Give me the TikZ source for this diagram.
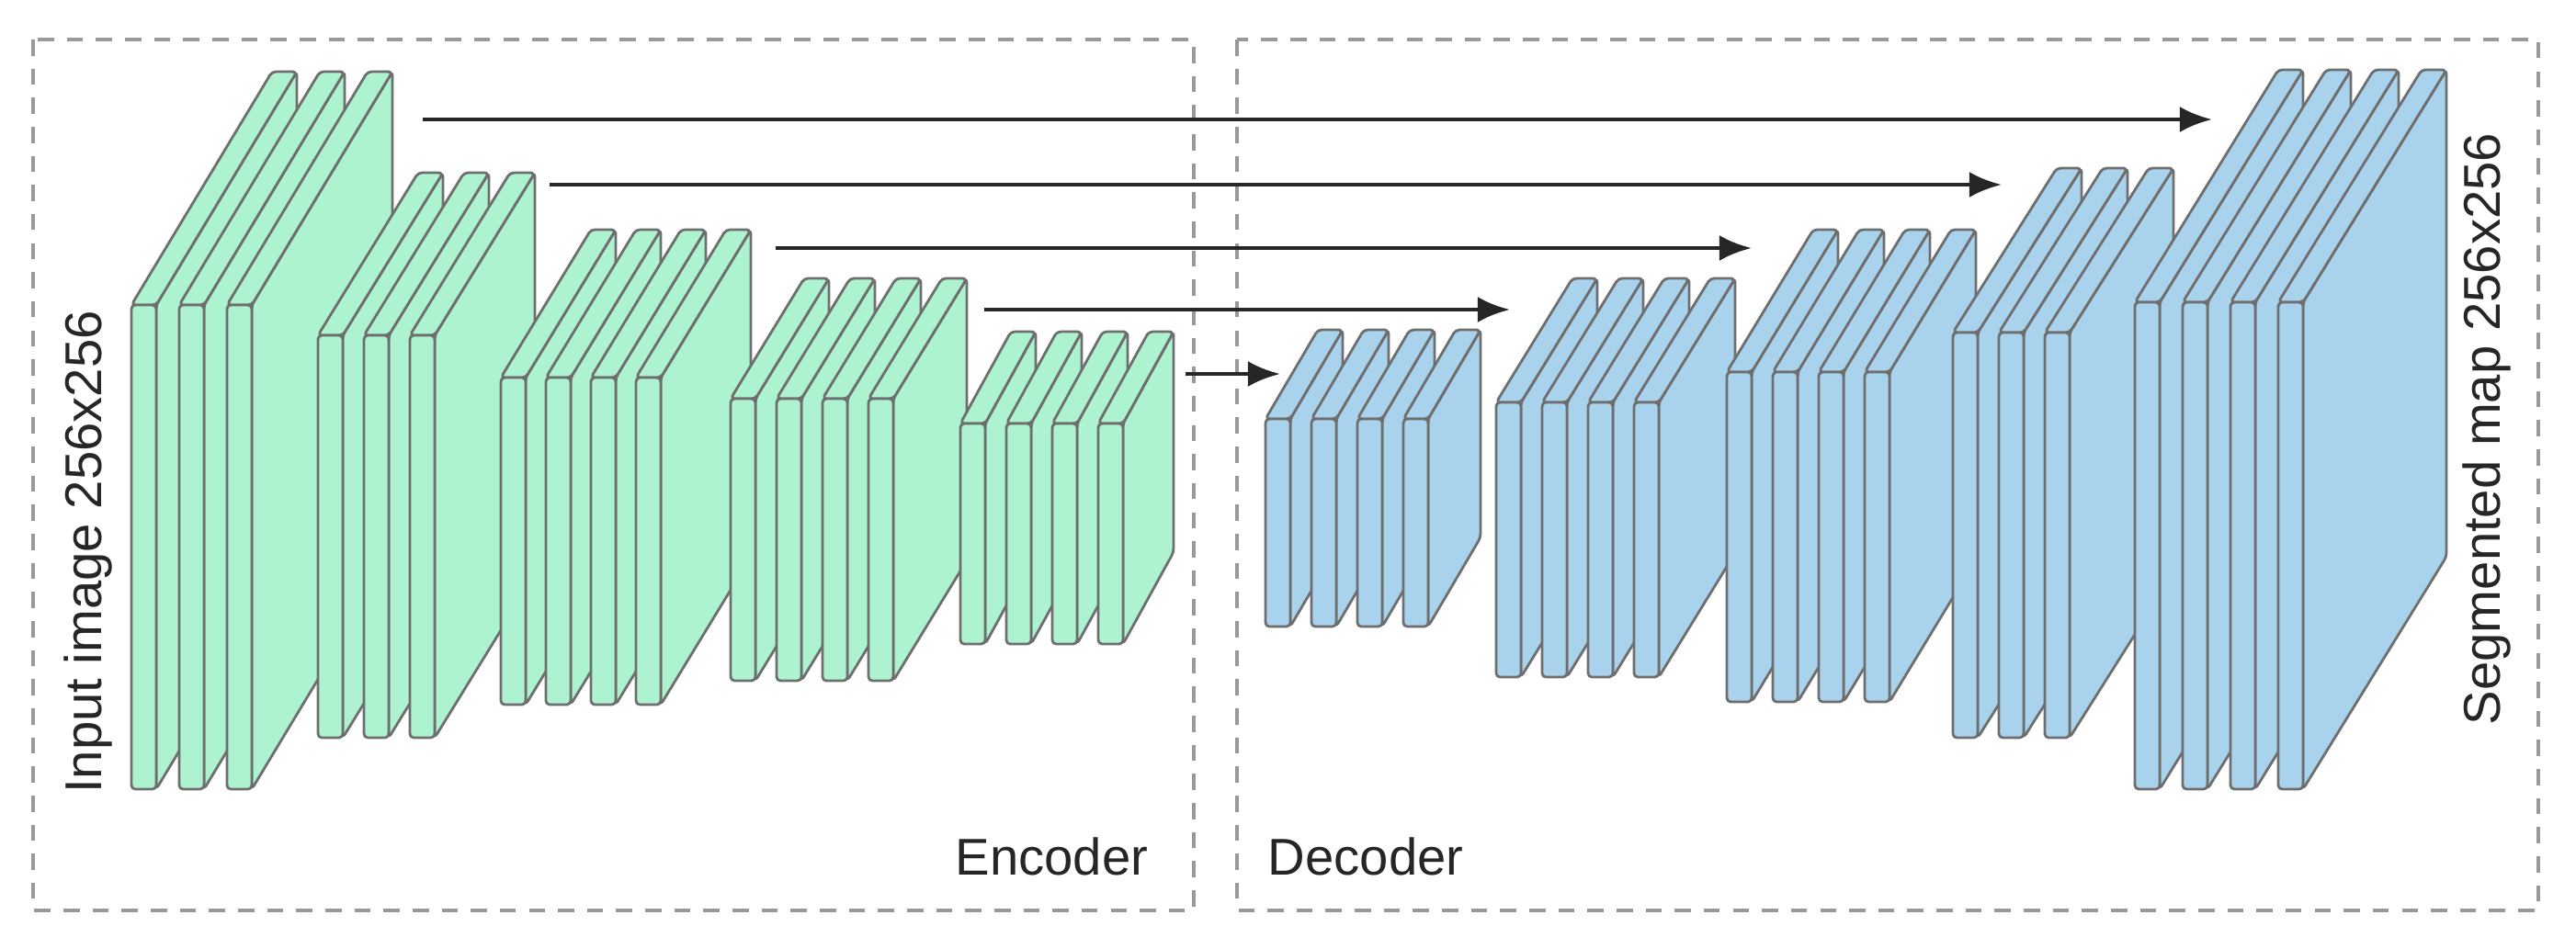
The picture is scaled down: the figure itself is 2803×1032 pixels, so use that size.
\documentclass[tikz,border=0pt]{standalone}
\usepackage{fontspec}
\setmainfont{Liberation Sans}
\usetikzlibrary{arrows.meta}
\definecolor{encfill}{HTML}{ADF3D0}
\definecolor{decfill}{HTML}{A9D3EC}
\definecolor{edgegray}{HTML}{6E6E6E}
\tikzset{
    slab/.style = {draw=edgegray, line width=0.8pt, rounded corners=1.2pt, line join=round},
    frame/.style = {draw=gray!80, dashed, line width=0.9pt, dash pattern=on 5pt off 4pt},
    skip/.style = {draw=black!85, line width=1.4pt, -{Latex[length=10pt,width=8pt]}},
    label/.style = {font=\fontsize{16}{19}\selectfont, text=black!85, inner sep=0pt}
}
% block of slabs: x, top, bottom, count, pitch, dx, dy, colour
\newcommand\convblock[8]{%
    \foreach \k in {1,...,#4}{%
        \pgfmathsetmacro\xa{#1+(\k-1)*#5}
        \pgfmathsetmacro\xb{\xa+27}
        \draw[slab, fill=#8] (\xb,#2) -- (\xb+#6,#2-#7) -- (\xb+#6,#3-#7) -- (\xb,#3) -- cycle;
        \draw[slab, fill=#8] (\xa,#2) -- (\xa+#6,#2-#7) -- (\xb+#6,#2-#7) -- (\xb,#2) -- cycle;
        \draw[slab, fill=#8] (\xa,#2) rectangle (\xb,#3);
    }%
}
\begin{document}
\begin{tikzpicture}[x=0.01cm, y=-0.01cm]
    \useasboundingbox (0,0) rectangle (2803,1032);
    % frames
    \draw[frame] (36,43) rectangle (1299,991);
    \draw[frame] (1346,43) rectangle (2762,991);
    % encoder
    \convblock{143}{332}{859}{3}{52}{153}{254}{encfill}
    \convblock{346}{365}{803}{3}{50}{109}{177}{encfill}
    \convblock{545}{411}{767}{4}{49}{98}{161}{encfill}
    \convblock{795}{434}{741}{4}{50}{80}{131}{encfill}
    \convblock{1045}{461}{701}{4}{50}{55}{100}{encfill}
    % decoder
    \convblock{1377}{456}{682}{4}{50}{57}{97}{decfill}
    \convblock{1628}{438}{737}{4}{50}{83}{135}{decfill}
    \convblock{1879}{405}{764}{4}{50}{94}{155}{decfill}
    \convblock{2125}{362}{803}{3}{50}{113}{179}{decfill}
    \convblock{2323}{329}{859}{4}{52}{156}{253}{decfill}
    % skip connections
    \coordinate (e1) at (460,130);  \coordinate (d5) at (2407,130);
    \coordinate (e2) at (598,201);  \coordinate (d4) at (2178,201);
    \coordinate (e3) at (844,270);  \coordinate (d3) at (1906,270);
    \coordinate (e4) at (1071,337); \coordinate (d2) at (1643,337);
    \coordinate (e5) at (1290,407); \coordinate (d1) at (1393,407);
    \draw[skip] (e1) -- (d5);
    \draw[skip] (e2) -- (d4);
    \draw[skip] (e3) -- (d3);
    \draw[skip] (e4) -- (d2);
    \draw[skip] (e5) -- (d1);
    % labels
    \node[label, rotate=90] (input) at (96,601) {Input image 256x256};
    \node[label, rotate=90] (output) at (2706,467) {Segmented map 256x256};
    \node[label, anchor=east] (enc) at (1250,932) {Encoder};
    \node[label, anchor=west] (dec) at (1379,932) {Decoder};
\end{tikzpicture}
\end{document}
